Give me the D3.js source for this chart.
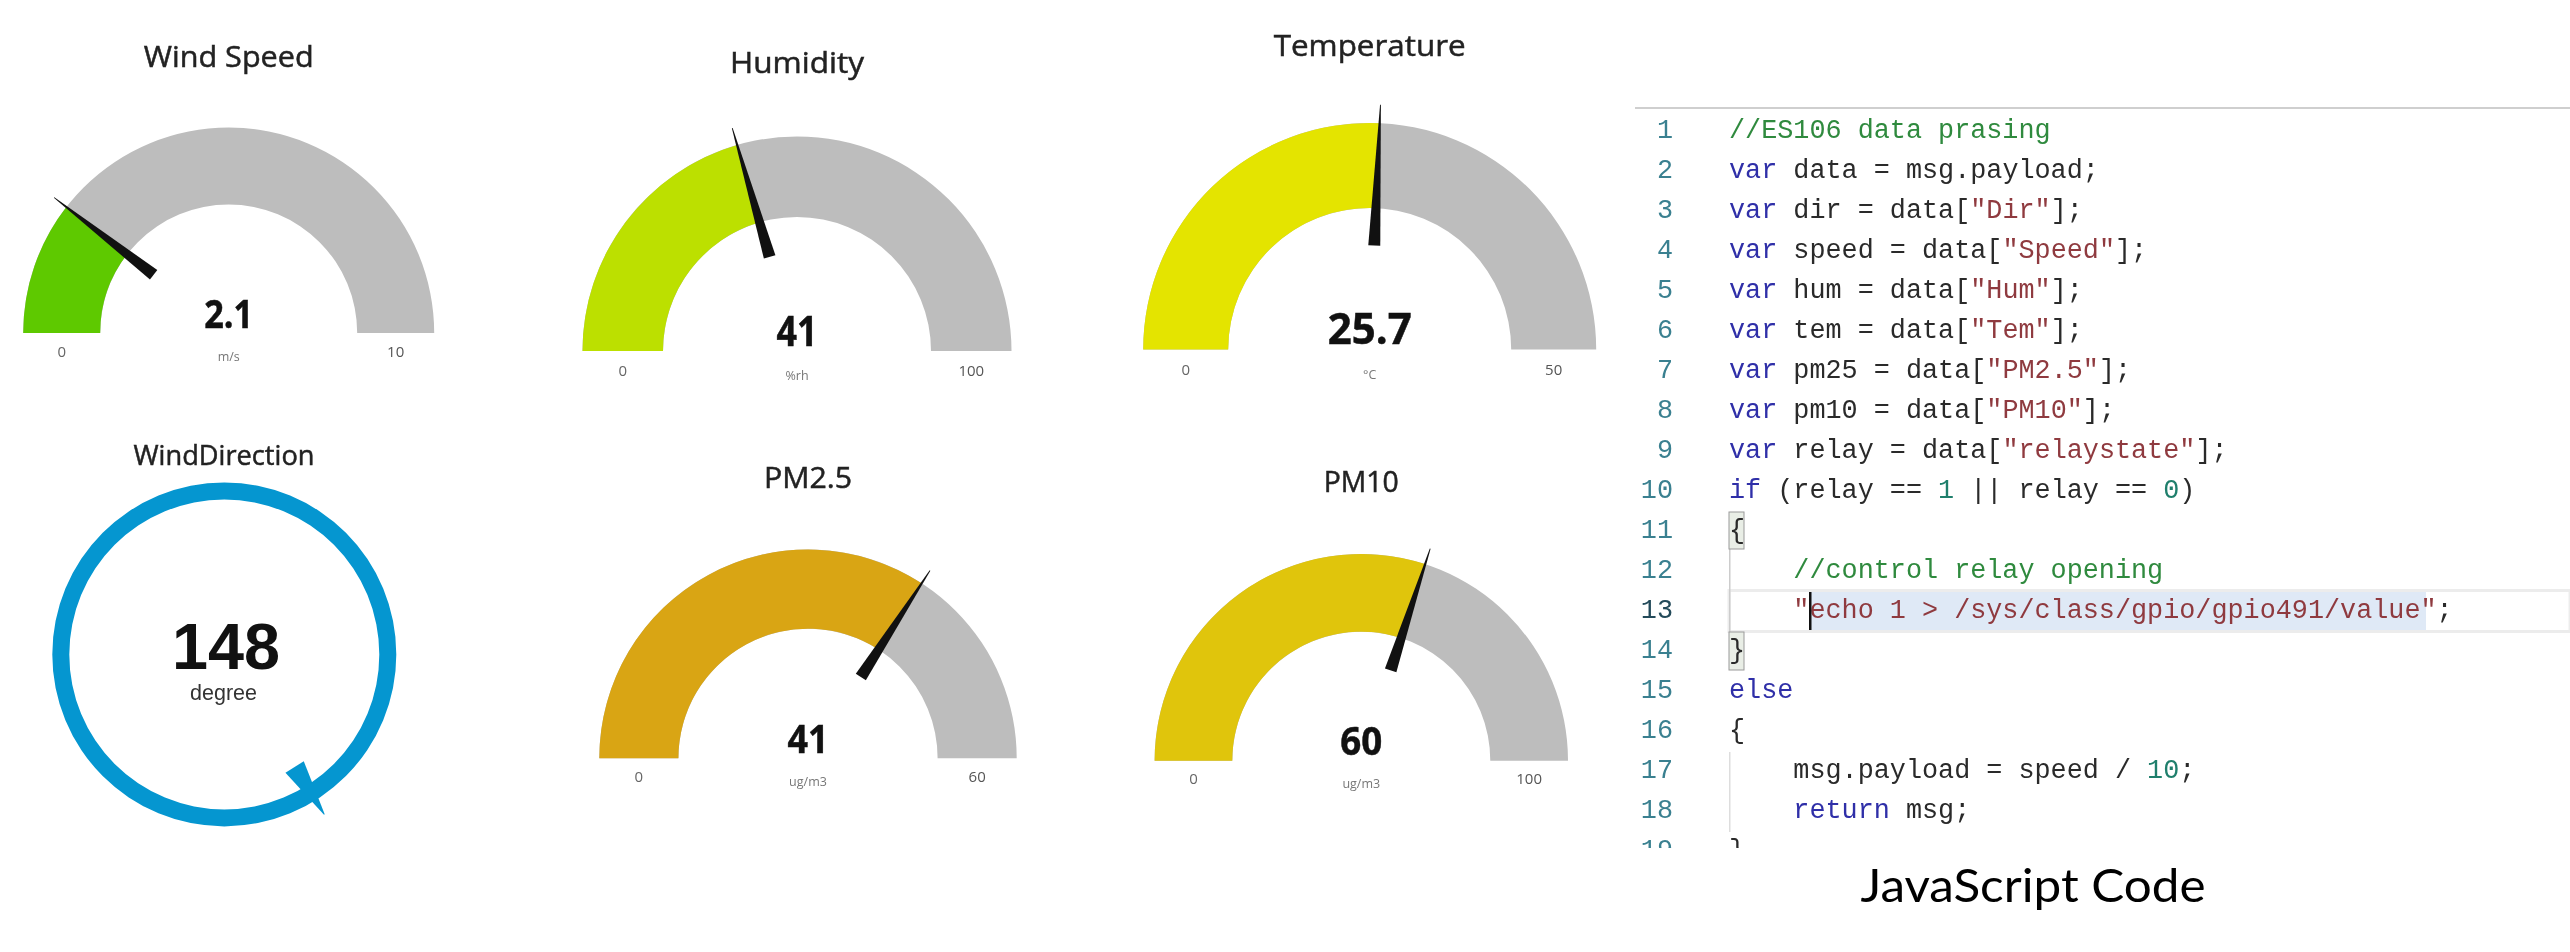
<!DOCTYPE html>
<html>
<head>
<meta charset="utf-8">
<script src="https://cdn.jsdelivr.net/npm/d3@7/dist/d3.min.js"></script>
<style>
html,body{margin:0;padding:0;background:#fff;overflow:hidden}
svg{display:block;filter:blur(0.55px)}
</style>
</head>
<body>
<svg id="c" width="2570" height="952"></svg>
<script>
// ---- data ----
const gaugeTitles = ["Wind Speed","Humidity","Temperature","PM2.5","PM10"];
const gaugeValues = [2.1,41,25.7,41,60];
const gaugeMaxima = [10,100,50,60,100];
const gaugeMinima = [0,0,0,0,0];
const gaugeUnits  = ["m/s","%rh","°C","ug/m3","ug/m3"];
const dialTitle = "WindDirection";
const dialValue = 148;
const dialUnit  = "degree";
const dialMax   = 360;
const codeCaption = "JavaScript Code";
// token kinds: k keyword, i identifier, s string, c comment, n number
const codeLines = [
  [["c",'//ES106 data prasing']],
  [["k",'var'],["i",' data = msg.payload;']],
  [["k",'var'],["i",' dir = data['],["s",'"Dir"'],["i",'];']],
  [["k",'var'],["i",' speed = data['],["s",'"Speed"'],["i",'];']],
  [["k",'var'],["i",' hum = data['],["s",'"Hum"'],["i",'];']],
  [["k",'var'],["i",' tem = data['],["s",'"Tem"'],["i",'];']],
  [["k",'var'],["i",' pm25 = data['],["s",'"PM2.5"'],["i",'];']],
  [["k",'var'],["i",' pm10 = data['],["s",'"PM10"'],["i",'];']],
  [["k",'var'],["i",' relay = data['],["s",'"relaystate"'],["i",'];']],
  [["k",'if'],["i",' (relay == '],["n",'1'],["i",' || relay == '],["n",'0'],["i",')']],
  [["i",'{']],
  [["c",'    //control relay opening']],
  [["s",'    "echo 1 > /sys/class/gpio/gpio491/value"'],["i",';']],
  [["i",'}']],
  [["k",'else']],
  [["i",'{']],
  [["i",'    msg.payload = speed / '],["n",'10'],["i",';']],
  [["k",'    return'],["i",' msg;']],
  [["i",'}']]
];

// ---- layout and style (not data) ----
const gaugeFills = ["#5ec900","#bce000","#e4e400","#d9a514","#e0c50c"];
const trackFill = "#bdbdbd";
const gaugeBoxes = [
  {cx:228.7,cy:333,  R:205.5,r:128.5,needleIn:95, needleOut:221,titleW:170,titleY:66.5,titleS:30,valueY:328,valueS:39,valueW:49,labelY:352,unitY:356},
  {cx:797,  cy:351,  R:214.5,r:134,  needleIn:98, needleOut:232,titleW:134,titleY:72.5,titleS:30,valueY:346,valueS:41,valueW:41,labelY:371,unitY:375},
  {cx:1369.7,cy:349.5,R:226.5,r:141.5,needleIn:104,needleOut:245,titleW:192,titleY:56,titleS:30,valueY:344,valueS:43,valueW:84,labelY:370,unitY:374},
  {cx:808,  cy:758.3,R:208.7,r:129.6,needleIn:97, needleOut:224,titleW:88, titleY:488,titleS:29,valueY:753,valueS:40,valueW:41,labelY:777,unitY:781},
  {cx:1361.3,cy:760.7,R:206.7,r:129, needleIn:95, needleOut:223,titleW:75, titleY:491.5,titleS:29,valueY:755,valueS:39,valueW:42,labelY:779,unitY:783}
];
const uiFont = "'Open Sans','Noto Sans',sans-serif";
const monoFont = "'Liberation Mono',monospace";
const tokenFill = {k:"#2f2fa8",i:"#2a2a2a",s:"#8f3a3f",c:"#2f8a3e",n:"#1f7f6c"};

const svg = d3.select("#c");
const rad = d => d*Math.PI/180;

function needlePoints(angleDeg, rIn, rOut, halfBase, halfTip){
  // angle measured clockwise from 12 o'clock, in the arc convention
  const a = rad(angleDeg), ux = Math.sin(a), uy = -Math.cos(a), px = -uy, py = ux;
  return [
    [ux*rIn+px*halfBase, uy*rIn+py*halfBase],
    [ux*rOut+px*halfTip, uy*rOut+py*halfTip],
    [ux*rOut-px*halfTip, uy*rOut-py*halfTip],
    [ux*rIn-px*halfBase, uy*rIn-py*halfBase]
  ];
}
const polyLine = d3.line().curve(d3.curveLinearClosed);

gaugeTitles.forEach((title,i)=>{
  const b = gaugeBoxes[i];
  const angle = d3.scaleLinear().domain([gaugeMinima[i],gaugeMaxima[i]]).range([-90,90]);
  const arc = d3.arc().innerRadius(b.r).outerRadius(b.R);
  const g = svg.append("g").attr("transform",`translate(${b.cx},${b.cy})`);
  g.append("path").attr("fill",trackFill)
    .attr("d",arc({startAngle:rad(-90),endAngle:rad(90)}));
  g.append("path").attr("fill",gaugeFills[i])
    .attr("d",arc({startAngle:rad(-90),endAngle:rad(angle(gaugeValues[i]))}));
  g.append("path").attr("fill","#111")
    .attr("d",polyLine(needlePoints(angle(gaugeValues[i]),b.needleIn,b.needleOut,6,0.4)));

  const mid=(b.R+b.r)/2;
  svg.append("text").text(title).attr("x",b.cx).attr("y",b.titleY)
    .attr("text-anchor","middle").attr("font-family",uiFont).attr("font-size",b.titleS)
    .attr("fill","#222").attr("stroke","#222").attr("stroke-width",0.5)
    .attr("textLength",b.titleW).attr("lengthAdjust","spacingAndGlyphs");
  svg.append("text").text(gaugeValues[i]).attr("x",b.cx).attr("y",b.valueY)
    .attr("text-anchor","middle").attr("font-family",uiFont).attr("font-weight",700).attr("font-size",b.valueS)
    .attr("fill","#111").attr("stroke","#111").attr("stroke-width",0.5)
    .attr("textLength",b.valueW).attr("lengthAdjust","spacingAndGlyphs");
  svg.append("text").text(gaugeMinima[i]).attr("x",b.cx-mid).attr("y",b.labelY+5)
    .attr("text-anchor","middle").attr("font-family",uiFont).attr("font-size",15).attr("fill","#666");
  svg.append("text").text(gaugeMaxima[i]).attr("x",b.cx+mid).attr("y",b.labelY+5)
    .attr("text-anchor","middle").attr("font-family",uiFont).attr("font-size",15).attr("fill","#555");
  svg.append("text").text(gaugeUnits[i]).attr("x",b.cx).attr("y",b.unitY+5)
    .attr("text-anchor","middle").attr("font-family",uiFont).attr("font-size",12.5).attr("fill","#777");
});

// ---- wind-direction dial ----
(function(){
  const cx=224.3, cy=654.4;
  const dirAngle = d3.scaleLinear().domain([0,dialMax]).range([0,360]);
  const g = svg.append("g").attr("transform",`translate(${cx},${cy})`);
  const arc = d3.arc().innerRadius(155).outerRadius(172);
  g.append("path").attr("fill","#0596d0").attr("d",arc({startAngle:0,endAngle:2*Math.PI}));
  g.append("path").attr("fill","#0596d0")
    .attr("d",polyLine(needlePoints(dirAngle(dialValue),132.7,188.8,10.8,0.4)));
  svg.append("text").text(dialTitle).attr("x",224).attr("y",465)
    .attr("text-anchor","middle").attr("font-family",uiFont).attr("font-size",28)
    .attr("fill","#222").attr("stroke","#222").attr("stroke-width",0.5)
    .attr("textLength",181).attr("lengthAdjust","spacingAndGlyphs");
  svg.append("text").text(dialValue).attr("x",226).attr("y",668.5)
    .attr("text-anchor","middle").attr("font-family","'Liberation Sans',sans-serif").attr("font-weight",700)
    .attr("font-size",64).attr("fill","#111").attr("textLength",108).attr("lengthAdjust","spacingAndGlyphs");
  svg.append("text").text(dialUnit).attr("x",223.5).attr("y",700)
    .attr("text-anchor","middle").attr("font-family","'Liberation Sans',sans-serif")
    .attr("font-size",21.5).attr("fill","#333");
})();

// ---- code panel ----
(function(){
  const codeX=1729, numX=1673;
  const lineY = d3.scaleLinear().domain([1,2]).range([138.3,178.3]);
  svg.append("defs").append("clipPath").attr("id","codeClip").append("rect")
    .attr("x",1630).attr("y",100).attr("width",940).attr("height",748);
  svg.append("rect").attr("x",1635).attr("y",107).attr("width",935).attr("height",2).attr("fill","#cfcfcf");
  const p = svg.append("g").attr("clip-path","url(#codeClip)");

  // current line frame and selection of line 13
  p.append("rect").attr("x",codeX).attr("y",590.5).attr("width",841).attr("height",41)
    .attr("fill","none").attr("stroke","#ececec").attr("stroke-width",3);
  p.append("rect").attr("x",1811).attr("y",592).attr("width",615).attr("height",38).attr("fill","#dfe9f6");
  // indent guides
  p.append("rect").attr("x",codeX).attr("y",549).attr("width",1.5).attr("height",83).attr("fill","#cccccc");
  p.append("rect").attr("x",codeX).attr("y",752).attr("width",1.5).attr("height",80).attr("fill","#dddddd");
  // matching bracket boxes
  [[512,37],[632,38]].forEach(([y,h])=>{
    p.append("rect").attr("x",codeX).attr("y",y).attr("width",15).attr("height",h)
      .attr("fill","#e9eee6").attr("stroke","#9a9a9a").attr("stroke-width",1);
  });

  const fs=26.8;
  codeLines.forEach((tokens,i)=>{
    const n=i+1, y=lineY(n);
    p.append("text").text(n).attr("x",numX).attr("y",y).attr("text-anchor","end")
      .attr("font-family",monoFont).attr("font-size",fs)
      .attr("fill",n===13?"#234a5a":"#3a8090");
    const t=p.append("text").attr("x",codeX).attr("y",y)
      .attr("font-family",monoFont).attr("font-size",fs).attr("xml:space","preserve")
      .style("white-space","pre");
    t.selectAll("tspan").data(tokens).join("tspan")
      .attr("fill",d=>tokenFill[d[0]]).text(d=>d[1]);
  });
  // caret
  p.append("rect").attr("x",1809).attr("y",592).attr("width",2.5).attr("height",38).attr("fill","#111");

  svg.append("text").text(codeCaption).attr("x",1860.5).attr("y",901.7)
    .attr("font-family","Lato,sans-serif").attr("font-size",46).attr("fill","#000")
    .attr("textLength",345).attr("lengthAdjust","spacingAndGlyphs");
})();
</script>
</body>
</html>
